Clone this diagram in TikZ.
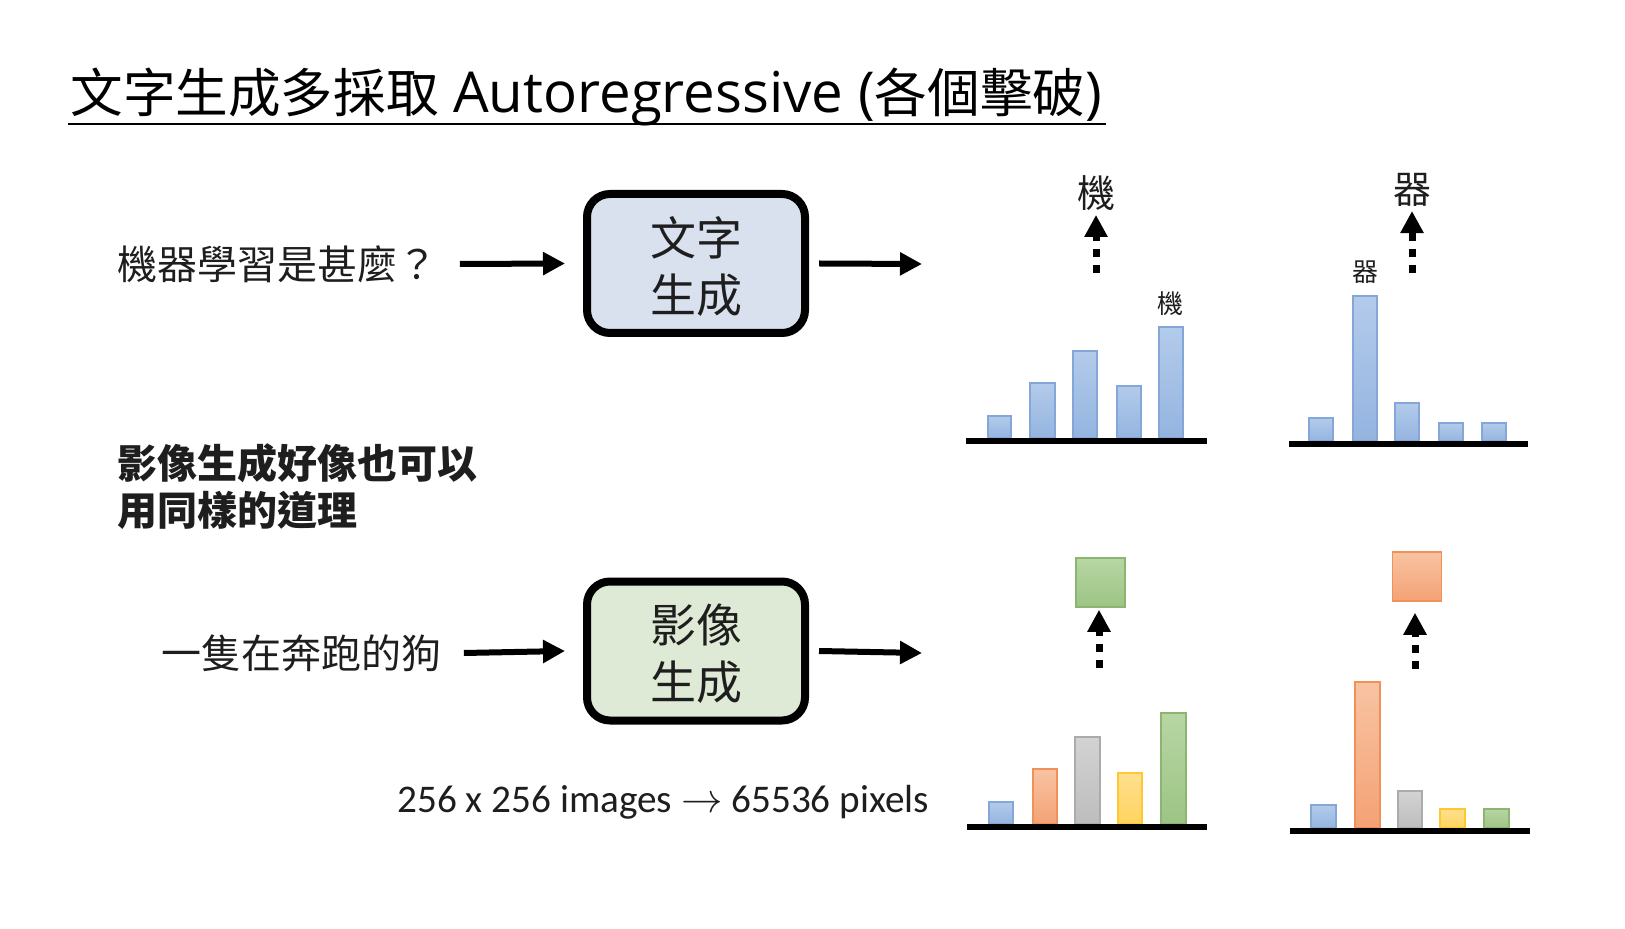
\documentclass[tikz,border=0pt]{standalone}
\usepackage{fontspec}
\setmainfont{Noto Sans CJK TC}
\newfontfamily\calfont{Carlito}
\newfontfamily\latinfont{Open Sans}
\usetikzlibrary{arrows.meta}
\definecolor{txtc}{HTML}{1E1E1E}
\definecolor{boxblue}{HTML}{D9E1EF}
\definecolor{boxgreen}{HTML}{DFEAD6}
\definecolor{bluetop}{HTML}{B3CBEB}
\definecolor{bluebot}{HTML}{94B4E0}
\definecolor{bluebd}{HTML}{84A7D8}
\definecolor{orgtop}{HTML}{F8C3A2}
\definecolor{orgbot}{HTML}{F4A275}
\definecolor{orgbd}{HTML}{EF9159}
\definecolor{grytop}{HTML}{D3D3D3}
\definecolor{grybot}{HTML}{BDBDBD}
\definecolor{grybd}{HTML}{ABABAB}
\definecolor{yeltop}{HTML}{FFE08F}
\definecolor{yelbot}{HTML}{FFD35E}
\definecolor{yelbd}{HTML}{FFC833}
\definecolor{grntop}{HTML}{B7D6A3}
\definecolor{grnbot}{HTML}{9DC485}
\definecolor{grnbd}{HTML}{8DB572}
\newcommand\lowr[1]{\raisebox{-1.5pt}[\height][\depth]{#1}}
\begin{document}
\begin{tikzpicture}[x=0.5pt,y=-0.5pt,
  txt/.style={inner sep=0pt, text=txtc, font=\fontsize{20}{24}\selectfont},
  arr/.style={line width=3pt, -{Triangle[length=11pt,width=11pt]}},
  dotarr/.style={line width=3.5pt, dash pattern=on 4pt off 4pt, -{Triangle[length=11pt,width=11pt]}},
  genbox/.style={draw=black, line width=4pt, rounded corners=11.5pt, minimum width=109pt,
    minimum height=69.5pt, inner sep=0pt, align=center, text=txtc,
    font=\fontsize{23}{28.5}\selectfont},
  axisline/.style={line width=3pt},
  bblue/.style={draw=bluebd, line width=0.75pt, top color=bluetop, bottom color=bluebot},
  borg/.style={draw=orgbd, line width=0.75pt, top color=orgtop, bottom color=orgbot},
  bgry/.style={draw=grybd, line width=0.75pt, top color=grytop, bottom color=grybot},
  byel/.style={draw=yelbd, line width=0.75pt, top color=yeltop, bottom color=yelbot},
  bgrn/.style={draw=grnbd, line width=0.75pt, top color=grntop, bottom color=grnbot},
  biglab/.style={inner sep=0pt, text=txtc, font=\fontsize{19}{22}\selectfont},
  smalllab/.style={inner sep=0pt, text=txtc, font=\fontsize{13}{15}\selectfont},
  sq/.style={minimum size=24.5pt, inner sep=0pt, line width=0.75pt}
]
\useasboundingbox[fill=white] (0,0) rectangle (1625,929);

% title
\node[anchor=base west, inner sep=0pt, font=\fontsize{26.3}{30}\selectfont] (title) at (70,113)
  {文字生成多採取{\latinfont\fontsize{28.2}{30}\selectfont{} Autoregressive (}各個擊破{\latinfont\fontsize{28.2}{30}\selectfont)}};
\draw[line width=1.1pt] (68,124) -- (1106,124);

% text generation row
\node[txt, anchor=west] (q) at (117,264) {機器學習是甚麼？};
\node[genbox, fill=boxblue] (tg) at (696,263.5) {\lowr{文字}\\\lowr{生成}};
\coordinate (tgout) at (922,264);
\draw[arr] ([xshift=11pt]q.east) -- ([xshift=-9pt]tg.west);
\draw[arr] ([xshift=5pt]tg.east) -- (tgout);

% bold statement
\node[anchor=west, inner sep=0pt, align=left, text=txtc,
  font=\bfseries\fontsize{20}{23.5}\selectfont] (stmt) at (117,487)
  {影像生成好像也可以\\用同樣的道理};

% image generation row
\node[txt, anchor=west] (dog) at (161,653) {一隻在奔跑的狗};
\node[genbox, fill=boxgreen] (ig) at (696,651) {\lowr{影像}\\\lowr{生成}};
\coordinate (igout) at (922,653);
\draw[arr] ([xshift=11pt]dog.east) -- ([xshift=-9pt]ig.west);
\draw[arr] ([xshift=5pt]ig.east) -- (igout);

\node[anchor=base west, inner sep=0pt, text=txtc, font=\calfont\fontsize{19.6}{24}\selectfont] (px)
  at (397,812) {256 x 256 images $\rightarrow$ 65536 pixels};

% ---- top chart 1
\path[bblue] (988,438) rectangle (1011,416);
\path[bblue] (1030,438) rectangle (1055,383);
\path[bblue] (1073,438) rectangle (1097,351);
\path[bblue] (1117,438) rectangle (1141,386);
\path[bblue] (1159,438) rectangle (1183,327);
\draw[axisline] (966,441) -- (1207,441);
\node[smalllab] (s1) at (1170,304) {機};
\node[biglab] (w1) at (1096,193) {機};
\coordinate (d1) at (1096,273);
\draw[dotarr, shorten >=2pt] (d1) -- (d1 |- w1.south);

% ---- top chart 2
\path[bblue] (1309,441) rectangle (1333,418);
\path[bblue] (1353,441) rectangle (1377,296);
\path[bblue] (1395,441) rectangle (1419,403);
\path[bblue] (1439,441) rectangle (1463,423);
\path[bblue] (1482,441) rectangle (1506,423);
\draw[axisline] (1289,444) -- (1528,444);
\node[smalllab] (s2) at (1365,272) {器};
\node[biglab] (w2) at (1412,190) {器};
\coordinate (d2) at (1412,273);
\draw[dotarr, shorten >=2pt] (d2) -- (d2 |- w2.south);

% ---- bottom chart 1
\path[bblue] (989,824) rectangle (1013,802);
\path[borg] (1033,824) rectangle (1057,769);
\path[bgry] (1075,824) rectangle (1100,737);
\path[byel] (1118,824) rectangle (1142,773);
\path[bgrn] (1161,824) rectangle (1186,713);
\draw[axisline] (967,827) -- (1207,827);
\node[sq, draw=grnbd, top color=grntop, bottom color=grnbot] (g1) at (1100.5,582.5) {};
\coordinate (d3) at (1099,668);
\draw[dotarr, shorten >=1pt] (d3) -- (d3 |- g1.south);

% ---- bottom chart 2
\path[bblue] (1311,828) rectangle (1336,805);
\path[borg] (1355,828) rectangle (1380,682);
\path[bgry] (1398,828) rectangle (1422,791);
\path[byel] (1440,828) rectangle (1465,809);
\path[bgrn] (1484,828) rectangle (1509,809);
\draw[axisline] (1290,831) -- (1530,831);
\node[sq, draw=orgbd, top color=orgtop, bottom color=orgbot] (o1) at (1417,576.5) {};
\coordinate (d4) at (1415,669);
\draw[dotarr, shorten >=5.5pt] (d4) -- (d4 |- o1.south);
\end{tikzpicture}
\end{document}
